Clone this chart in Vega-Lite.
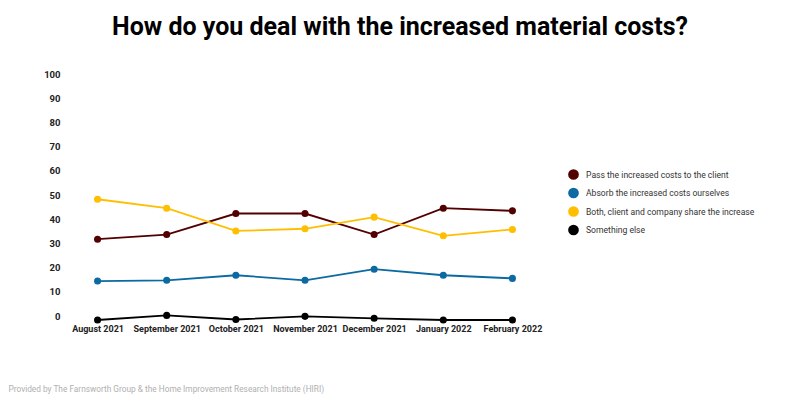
{
  "$schema": "https://vega.github.io/schema/vega-lite/v6.json",
  "autosize": {"type": "none"},
  "width": 484,
  "height": 242,
  "padding": {"left": 63, "top": 78, "right": 253, "bottom": 82},
  "background": "white",
  "title": {
    "text": "How do you deal with the increased material costs?",
    "font": "Roboto",
    "fontSize": 25,
    "fontWeight": "bold",
    "color": "#000000",
    "anchor": "middle",
    "dx": 95,
    "baseline": "alphabetic",
    "offset": 9
  },
  "config": {
    "view": {"stroke": null},
    "font": "Roboto"
  },
  "data": {
    "values": [
      {"month": "August 2021", "series": "Pass the increased costs to the client", "value": 33.4},
      {"month": "September 2021", "series": "Pass the increased costs to the client", "value": 35.3},
      {"month": "October 2021", "series": "Pass the increased costs to the client", "value": 44.0},
      {"month": "November 2021", "series": "Pass the increased costs to the client", "value": 44.0},
      {"month": "December 2021", "series": "Pass the increased costs to the client", "value": 35.3},
      {"month": "January 2022", "series": "Pass the increased costs to the client", "value": 46.2},
      {"month": "February 2022", "series": "Pass the increased costs to the client", "value": 45.1},
      {"month": "August 2021", "series": "Absorb the increased costs ourselves", "value": 16.1},
      {"month": "September 2021", "series": "Absorb the increased costs ourselves", "value": 16.4},
      {"month": "October 2021", "series": "Absorb the increased costs ourselves", "value": 18.5},
      {"month": "November 2021", "series": "Absorb the increased costs ourselves", "value": 16.4},
      {"month": "December 2021", "series": "Absorb the increased costs ourselves", "value": 21.0},
      {"month": "January 2022", "series": "Absorb the increased costs ourselves", "value": 18.5},
      {"month": "February 2022", "series": "Absorb the increased costs ourselves", "value": 17.2},
      {"month": "August 2021", "series": "Both, client and company share the increase", "value": 49.9},
      {"month": "September 2021", "series": "Both, client and company share the increase", "value": 46.2},
      {"month": "October 2021", "series": "Both, client and company share the increase", "value": 36.8},
      {"month": "November 2021", "series": "Both, client and company share the increase", "value": 37.7},
      {"month": "December 2021", "series": "Both, client and company share the increase", "value": 42.5},
      {"month": "January 2022", "series": "Both, client and company share the increase", "value": 34.8},
      {"month": "February 2022", "series": "Both, client and company share the increase", "value": 37.4},
      {"month": "August 2021", "series": "Something else", "value": 0.0},
      {"month": "September 2021", "series": "Something else", "value": 1.9},
      {"month": "October 2021", "series": "Something else", "value": 0.2},
      {"month": "November 2021", "series": "Something else", "value": 1.5},
      {"month": "December 2021", "series": "Something else", "value": 0.7},
      {"month": "January 2022", "series": "Something else", "value": 0.0},
      {"month": "February 2022", "series": "Something else", "value": 0.0}
    ]
  },
  "encoding": {
    "x": {
      "field": "month",
      "type": "ordinal",
      "sort": null,
      "scale": {"type": "point", "padding": 0.5},
      "axis": {
        "title": "Provided by The Farnsworth Group & the Home Improvement Research Institute (HIRI)",
        "titleFont": "Roboto",
        "titleFontSize": 8.3,
        "titleFontWeight": "normal",
        "titleColor": "#b0b0b0",
        "titleAnchor": "start",
        "titleAlign": "left",
        "titleBaseline": "middle",
        "titleX": -55,
        "titleY": 69,
        "labelAngle": 0,
        "labelFont": "Roboto",
        "labelFontSize": 9,
        "labelFontWeight": "bold",
        "labelColor": "#222222",
        "labelPadding": 4,
        "labelOverlap": false,
        "domain": false,
        "ticks": false,
        "grid": false
      }
    },
    "y": {
      "field": "value",
      "type": "quantitative",
      "scale": {"domain": [0, 100], "nice": false, "zero": true},
      "axis": {
        "title": null,
        "values": [0, 10, 20, 30, 40, 50, 60, 70, 80, 90, 100],
        "labelFont": "Roboto",
        "labelFontSize": 9.5,
        "labelFontWeight": "bold",
        "labelColor": "#222222",
        "labelBaseline": "alphabetic",
        "labelOffset": -1,
        "labelPadding": 3,
        "domain": false,
        "ticks": false,
        "grid": false
      }
    },
    "color": {
      "field": "series",
      "type": "nominal",
      "sort": null,
      "scale": {
        "domain": ["Pass the increased costs to the client", "Absorb the increased costs ourselves", "Both, client and company share the increase", "Something else"],
        "range": ["#520000", "#0b6aa2", "#ffbf00", "#000000"]
      },
      "legend": {
        "title": null,
        "orient": "none",
        "legendX": 505,
        "legendY": 91,
        "symbolType": "circle",
        "symbolSize": 115,
        "symbolStrokeWidth": 0,
        "labelFont": "Roboto",
        "labelFontSize": 8.6,
        "labelColor": "#333333",
        "labelOffset": 7,
        "labelLimit": 300,
        "rowPadding": 7.5
      }
    }
  },
  "layer": [
    {"mark": {"type": "line", "strokeWidth": 1.8}},
    {"mark": {"type": "point", "filled": true, "size": 50, "opacity": 1}}
  ]
}
